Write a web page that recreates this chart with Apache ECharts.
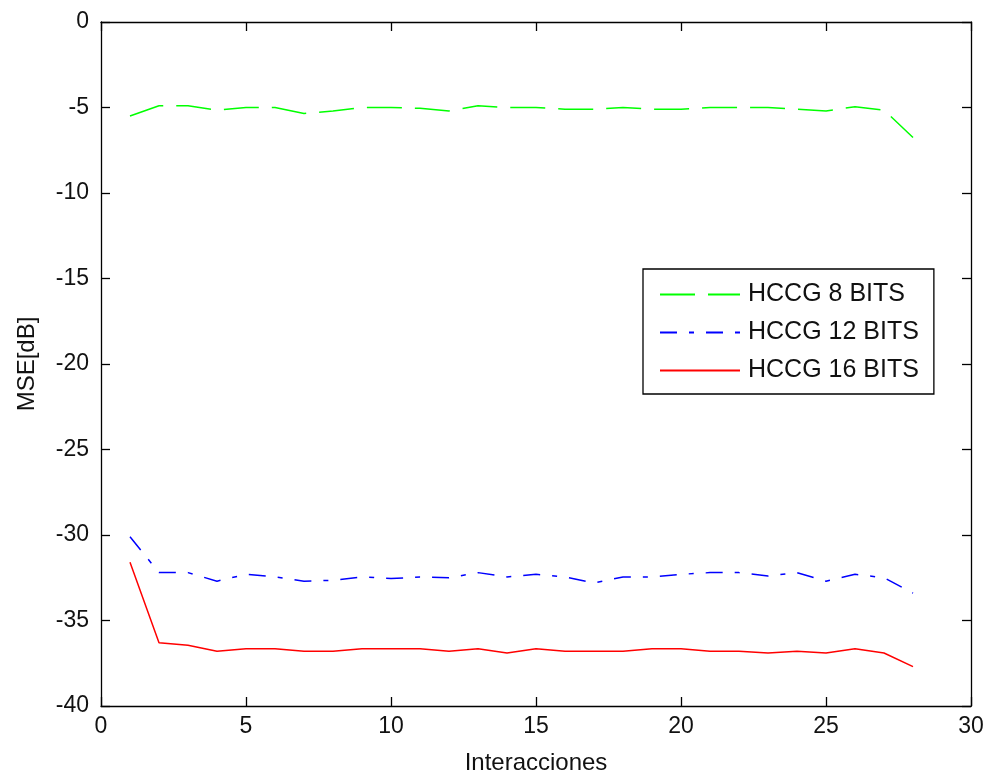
<!DOCTYPE html>
<html>
<head>
<meta charset="utf-8">
<script src="https://cdn.jsdelivr.net/npm/echarts@6/dist/echarts.min.js"></script>
<style>
  html, body { margin: 0; padding: 0; background: #fff; }
  #box1 { width: 989px; height: 776px; }
</style>
</head>
<body>
<div id="box1"></div>
<script>
var iterations = [1, 2, 3, 4, 5, 6, 7, 8, 9, 10, 11, 12, 13, 14, 15, 16, 17, 18, 19, 20, 21, 22, 23, 24, 25, 26, 27, 28];
var mse8 = [-5.5, -4.9, -4.9, -5.15, -5.0, -5.0, -5.35, -5.2, -5.0, -5.0, -5.05, -5.2, -4.9, -5.0,
            -5.0, -5.1, -5.1, -5.0, -5.1, -5.1, -5.0, -5.0, -5.0, -5.1, -5.2, -4.95, -5.15, -6.75];
var mse12 = [-30.1, -32.2, -32.2, -32.7, -32.3, -32.45, -32.7, -32.65, -32.45, -32.55, -32.45, -32.5, -32.2, -32.45,
             -32.3, -32.45, -32.8, -32.45, -32.45, -32.3, -32.2, -32.2, -32.4, -32.2, -32.7, -32.3, -32.5, -33.4];
var mse16 = [-31.6, -36.3, -36.45, -36.8, -36.65, -36.65, -36.8, -36.8, -36.65, -36.65, -36.65, -36.8, -36.65, -36.9,
             -36.65, -36.8, -36.8, -36.8, -36.65, -36.65, -36.8, -36.8, -36.9, -36.8, -36.9, -36.65, -36.9, -37.7];
var seriesNames = ['HCCG 8 BITS', 'HCCG 12 BITS', 'HCCG 16 BITS'];

function pairs(ys) {
  return iterations.map(function (x, i) { return [x, ys[i]]; });
}

var font = 'Liberation Sans, Arial, sans-serif';
// box axes like matlab: line on all four sides, ticks pointing in
var axisLine = { show: true, onZero: false, lineStyle: { color: '#000', width: 1.3 } };
var axisTick = { show: true, inside: true, length: 9, lineStyle: { color: '#000', width: 1.3 } };

var dom = document.getElementById('box1');
var myChart = echarts.init(dom);
var option = {
  backgroundColor: '#fff',
  animation: false,
  // fixed plot box, don't let the axis name squeeze it
  grid: { left: 101, right: 18, top: 22, bottom: 70, containLabel: false, outerBoundsMode: 'none' },
  legend: {
    orient: 'vertical',
    left: 643,
    top: 269,
    padding: [13, 15, 11, 16],
    itemGap: 13,
    itemWidth: 80,
    itemHeight: 14,
    borderColor: '#000',
    borderWidth: 1.3,
    backgroundColor: '#fff',
    // hide the symbol dot, keep only the line sample
    itemStyle: { opacity: 0 },
    textStyle: { fontFamily: font, fontSize: 25, color: '#111', padding: [0, 0, 0, 3] },
    data: seriesNames
  },
  xAxis: [{
    type: 'value', min: 0, max: 30, interval: 5,
    name: 'Interacciones', nameLocation: 'middle', nameGap: 45,
    nameTextStyle: { fontFamily: font, fontSize: 24, color: '#111' },
    axisLine: axisLine, axisTick: axisTick, splitLine: { show: false },
    axisLabel: { fontFamily: font, fontSize: 23, color: '#111', margin: 9 }
  }, {
    type: 'value', min: 0, max: 30, interval: 5, position: 'top',
    axisLine: axisLine, axisTick: axisTick, splitLine: { show: false },
    axisLabel: { show: false }
  }],
  yAxis: [{
    type: 'value', min: -40, max: 0, interval: 5,
    name: 'MSE[dB]', nameLocation: 'middle', nameGap: 62,
    nameTextStyle: { fontFamily: font, fontSize: 24, color: '#111' },
    axisLine: axisLine, axisTick: axisTick, splitLine: { show: false },
    axisLabel: { fontFamily: font, fontSize: 23, color: '#111', margin: 12 }
  }, {
    type: 'value', min: -40, max: 0, interval: 5, position: 'right',
    axisLine: axisLine, axisTick: axisTick, splitLine: { show: false },
    axisLabel: { show: false }
  }],
  series: [{
    name: seriesNames[0], type: 'line', symbol: 'none',
    data: pairs(mse8),
    itemStyle: { color: '#00ff00' },
    lineStyle: { color: '#00ff00', width: 1.5, type: [35, 13] }
  }, {
    name: seriesNames[1], type: 'line', symbol: 'none',
    data: pairs(mse12),
    itemStyle: { color: '#0000ff' },
    lineStyle: { color: '#0000ff', width: 1.5, type: [17, 12, 5, 12] }
  }, {
    name: seriesNames[2], type: 'line', symbol: 'none',
    data: pairs(mse16),
    itemStyle: { color: '#ff0000' },
    lineStyle: { color: '#ff0000', width: 1.5 }
  }]
};

if (option && typeof option === 'object') {
  myChart.setOption(option);
}
</script>
</body>
</html>
